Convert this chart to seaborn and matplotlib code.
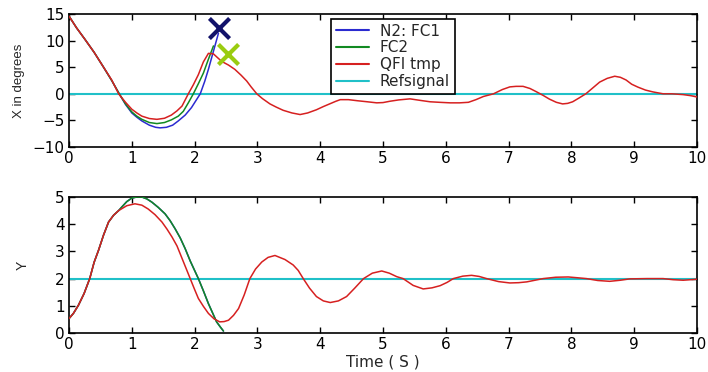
import numpy as np
import pandas as pd
import matplotlib
matplotlib.use("Agg")
import matplotlib.pyplot as plt
import seaborn as sns
from matplotlib.lines import Line2D

# ---------------- data ----------------
# Top panel: X in degrees
t_red_x = [0, 0.12, 0.25, 0.4, 0.55, 0.68, 0.79, 0.9, 1.0, 1.08, 1.16, 1.28, 1.4, 1.52, 1.63,
           1.72, 1.8, 1.9, 1.98, 2.06, 2.14, 2.22, 2.3, 2.43, 2.54, 2.64, 2.74, 2.83, 2.9,
           2.99, 3.08, 3.2, 3.3, 3.41, 3.55, 3.68, 3.8, 3.94, 4.05, 4.15, 4.25, 4.32, 4.45,
           4.59, 4.75, 4.9, 5.0, 5.11, 5.25, 5.43, 5.6, 5.75, 5.9, 6.07, 6.22, 6.36, 6.48,
           6.6, 6.76, 6.9, 7.02, 7.12, 7.23, 7.34, 7.44, 7.55, 7.65, 7.76, 7.86, 7.94, 8.02,
           8.12, 8.23, 8.34, 8.45, 8.57, 8.69, 8.78, 8.87, 8.96, 9.06, 9.18, 9.3, 9.46, 9.6,
           9.78, 9.9, 10.0]
v_red_x = [14.6, 12.4, 10.3, 7.8, 5.0, 2.6, 0.0, -1.6, -2.9, -3.6, -4.2, -4.65, -4.8, -4.6, -4.0,
           -3.2, -2.3, 0.0, 1.7, 3.6, 6.0, 7.6, 7.5, 6.1, 5.4, 4.6, 3.5, 2.4, 1.3,
           0.0, -0.9, -1.9, -2.5, -3.1, -3.6, -3.9, -3.6, -3.0, -2.4, -1.9, -1.4, -1.1, -1.1,
           -1.3, -1.5, -1.7, -1.65, -1.4, -1.15, -0.95, -1.25, -1.5, -1.6, -1.7, -1.7, -1.6, -1.1,
           -0.5, 0.0, 0.8, 1.3, 1.4, 1.4, 1.0, 0.4, -0.3, -1.0, -1.6, -1.9, -1.8, -1.5,
           -0.8, 0.0, 1.1, 2.2, 2.9, 3.3, 3.1, 2.6, 1.8, 1.25, 0.7, 0.35, 0.0, 0.0,
           -0.15, -0.35, -0.6]

t_blue_x = [0, 0.12, 0.25, 0.4, 0.55, 0.68, 0.8, 0.9, 1.0, 1.08, 1.16, 1.28, 1.38, 1.45, 1.55,
            1.65, 1.74, 1.85, 1.95, 2.02, 2.09, 2.16, 2.22, 2.3, 2.38]
v_blue_x = [14.6, 12.4, 10.3, 7.8, 5.0, 2.5, 0.0, -2.0, -3.6, -4.4, -5.1, -5.9, -6.3, -6.4, -6.3,
            -5.9, -5.1, -4.0, -2.6, -1.3, 0.0, 2.3, 4.6, 8.0, 11.4]

t_green_x = [0, 0.12, 0.25, 0.4, 0.55, 0.68, 0.8, 0.9, 1.0, 1.08, 1.16, 1.28, 1.4, 1.52, 1.63,
             1.74, 1.82, 1.9, 1.98, 2.06, 2.14, 2.22, 2.3]
v_green_x = [14.6, 12.4, 10.3, 7.8, 5.0, 2.5, 0.0, -1.9, -3.4, -4.2, -4.8, -5.4, -5.6, -5.4, -4.9,
             -4.2, -3.3, -1.7, 0.0, 1.9, 3.9, 6.5, 9.0]

ref_t = [0, 10]
ref_x = [0, 0]
ref_y = [2, 2]

marker_t = [2.39, 2.53]
marker_x = [12.3, 7.4]

# Bottom panel: Y
t_red_y = [0, 0.07, 0.15, 0.24, 0.33, 0.4, 0.47, 0.55, 0.63, 0.71, 0.79, 0.92, 1.05, 1.16, 1.26,
           1.37, 1.48, 1.56, 1.64, 1.72, 1.79, 1.86, 1.93, 2.0, 2.06, 2.14, 2.22, 2.31, 2.4,
           2.47, 2.54, 2.62, 2.7, 2.79, 2.88, 2.97, 3.07, 3.17, 3.28, 3.44, 3.57, 3.65, 3.73,
           3.83, 3.94, 4.05, 4.16, 4.29, 4.42, 4.55, 4.69, 4.83, 4.98, 5.1, 5.22, 5.32, 5.48,
           5.64, 5.78, 5.91, 6.02, 6.12, 6.27, 6.41, 6.53, 6.65, 6.84, 7.02, 7.16, 7.29, 7.42,
           7.55, 7.75, 7.95, 8.1, 8.24, 8.42, 8.61, 8.78, 8.93, 9.2, 9.46, 9.62, 9.78, 9.9, 10.0]
v_red_y = [0.53, 0.72, 1.02, 1.45, 2.0, 2.6, 3.04, 3.6, 4.08, 4.33, 4.5, 4.68, 4.75, 4.7, 4.56,
           4.35, 4.08, 3.82, 3.53, 3.2, 2.8, 2.4, 2.0, 1.6, 1.27, 0.98, 0.72, 0.52, 0.41,
           0.42, 0.47, 0.65, 0.9, 1.4, 2.0, 2.35, 2.61, 2.78, 2.85, 2.7, 2.5, 2.3, 2.0,
           1.65, 1.34, 1.18, 1.12, 1.18, 1.34, 1.65, 2.0, 2.2, 2.28, 2.2, 2.07, 2.0, 1.75,
           1.62, 1.66, 1.74, 1.86, 2.0, 2.09, 2.12, 2.08, 2.0, 1.89, 1.84, 1.85, 1.88, 1.94,
           2.0, 2.05, 2.06, 2.03, 2.0, 1.93, 1.9, 1.94, 1.99, 2.0, 2.0, 1.96, 1.94, 1.96, 1.98]

t_fc_y = [0, 0.07, 0.15, 0.24, 0.33, 0.4, 0.47, 0.55, 0.63, 0.71, 0.79, 0.84, 0.92, 1.0, 1.08,
          1.16, 1.24, 1.32, 1.42, 1.53, 1.61, 1.69, 1.77, 1.85, 1.93, 2.0, 2.06, 2.14, 2.22,
          2.29, 2.35, 2.41, 2.46]
v_fc_y = [0.53, 0.72, 1.02, 1.45, 2.0, 2.6, 3.04, 3.6, 4.08, 4.33, 4.5, 4.63, 4.83, 4.96, 5.0,
          5.0, 4.93, 4.81, 4.62, 4.38, 4.13, 3.83, 3.5, 3.1, 2.65, 2.3, 2.0, 1.55, 1.08,
          0.72, 0.41, 0.22, 0.07]

labels = ["N2: FC1", "FC2", "QFI tmp", "Refsignal"]
x_ticks = list(range(0, 11))
top_yticks = [-10, -5, 0, 5, 10, 15]
bot_yticks = [0, 1, 2, 3, 4, 5]

# ---------------- style ----------------
sns.set_style("ticks")
plt.rcParams["font.family"] = ["DejaVu Sans"]
plt.rcParams["xtick.direction"] = "in"
plt.rcParams["ytick.direction"] = "in"
plt.rcParams["xtick.top"] = True
plt.rcParams["ytick.right"] = True

C_BLUE = "#2b2bd0"
C_GREEN = "#128a22"
C_RED = "#d62020"
C_CYAN = "#20c0c8"

fig = plt.figure(figsize=(7.08, 3.72), dpi=100)
ax1 = fig.add_axes([69/708, 1-147/372, 628/708, 133/372])
ax2 = fig.add_axes([69/708, 1-333/372, 628/708, 136/372])

lw = 1.1
# top panel
sns.lineplot(x=ref_t, y=ref_x, ax=ax1, color=C_CYAN, lw=1.5, zorder=1)
sns.lineplot(x=t_blue_x, y=v_blue_x, ax=ax1, color=C_BLUE, lw=lw, zorder=2)
sns.lineplot(x=t_green_x, y=v_green_x, ax=ax1, color=C_GREEN, lw=lw, zorder=3)
sns.lineplot(x=t_red_x, y=v_red_x, ax=ax1, color=C_RED, lw=lw, zorder=4)
sns.scatterplot(x=marker_t[:1], y=marker_x[:1], ax=ax1, marker="x", s=210,
                linewidth=3, color="#12126a", zorder=6)
sns.scatterplot(x=marker_t[1:], y=marker_x[1:], ax=ax1, marker="x", s=210,
                linewidth=3, color="#9acc10", zorder=6)

# bottom panel
sns.lineplot(x=ref_t, y=ref_y, ax=ax2, color=C_CYAN, lw=1.5, zorder=1)
sns.lineplot(x=t_fc_y, y=v_fc_y, ax=ax2, color=C_BLUE, lw=lw, zorder=2)
sns.lineplot(x=t_fc_y, y=v_fc_y, ax=ax2, color=C_GREEN, lw=lw, zorder=3)
sns.lineplot(x=t_red_y, y=v_red_y, ax=ax2, color=C_RED, lw=lw, zorder=4)

for ax in (ax1, ax2):
    ax.set_xlim(0, 10)
    ax.set_xticks(x_ticks)
    for s in ax.spines.values():
        s.set_visible(True)
        s.set_color("black")
        s.set_linewidth(1.2)
    ax.tick_params(axis="both", labelsize=11, length=4, width=1, colors="black", pad=3)

ax1.set_ylim(-10, 15)
ax1.set_yticks(top_yticks)
ax2.set_ylim(0, 5)
ax2.set_yticks(bot_yticks)

ax1.set_ylabel("X in degrees", fontsize=9.5, family=["Liberation Sans", "DejaVu Sans"])
ax1.yaxis.set_label_coords(-0.07, 0.5)
ax2.set_ylabel("Y", fontsize=10, family=["Liberation Sans", "DejaVu Sans"])
ax2.yaxis.set_label_coords(-0.062, 0.5)
ax2.set_xlabel("Time ( S )", fontsize=11, labelpad=2)
ax1.set_xlabel("")

handles = [Line2D([], [], color=c, lw=1.5) for c in (C_BLUE, C_GREEN, C_RED, C_CYAN)]
leg = ax1.legend(handles, labels, loc="upper left", bbox_to_anchor=(331/708, 1-19/372),
                 bbox_transform=fig.transFigure, fontsize=11, frameon=True, fancybox=False,
                 edgecolor="black", framealpha=1, handlelength=2.2, handletextpad=0.7,
                 labelspacing=0.12, borderpad=0.3, borderaxespad=0)
leg.get_frame().set_linewidth(1.2)
leg.set_zorder(10)

fig.savefig("out.png", dpi=100)
